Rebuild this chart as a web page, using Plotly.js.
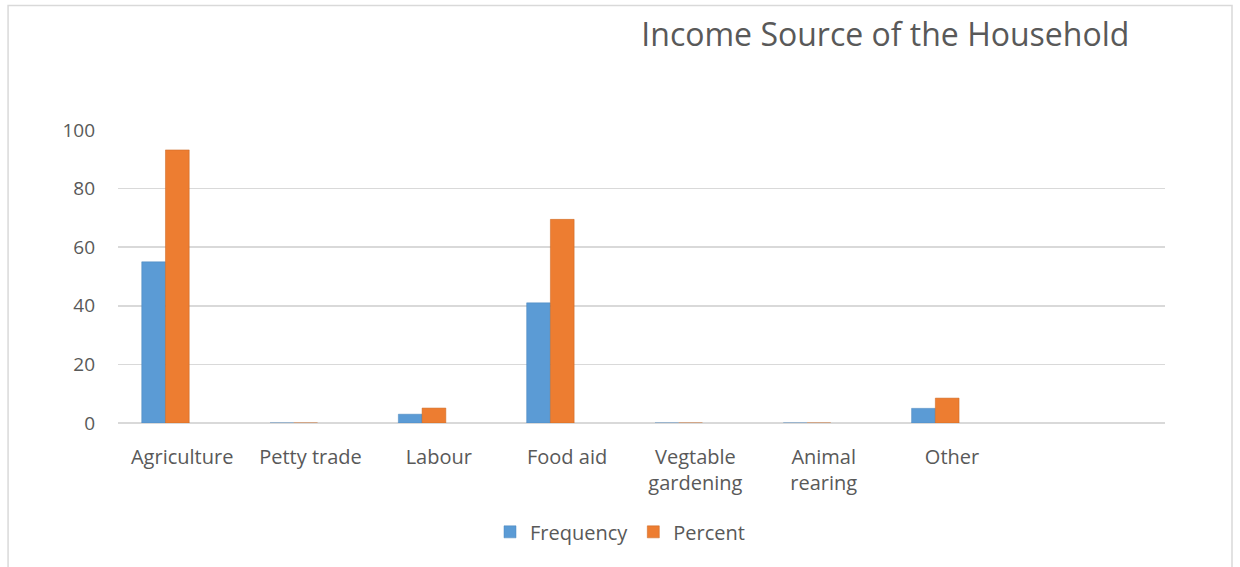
<!DOCTYPE html>
<html>
<head>
<meta charset="utf-8">
<script src="https://cdn.plot.ly/plotly-3.0.1.min.js"></script>
<style>html,body{margin:0;padding:0;background:#fff;}#chart{width:1240px;height:567px;}</style>
</head>
<body>
<div id="chart"></div>
<script>
var categories = ["Agriculture", "Petty trade", "Labour", "Food aid", "Vegtable<br>gardening", "Animal<br>rearing", "Other"];
var frequency = [55, 0, 3, 41, 0, 0, 5];
var percent = [93.2, 0, 5.1, 69.5, 0, 0, 8.5];
var seriesNames = ["Frequency", "Percent"];
var yTicks = [0, 20, 40, 60, 80, 100];

var font = "Open Sans, Liberation Sans, sans-serif";
var textColor = "#595959";

var traces = [
  {type: "bar", name: seriesNames[0], x: categories, y: frequency,
   marker: {color: "#5B9BD5", line: {color: "#4A86BD", width: 0.5}},
   width: 0.185, offset: -0.315},
  {type: "bar", name: seriesNames[1], x: categories, y: percent,
   marker: {color: "#ED7D31", line: {color: "#C9651F", width: 0.5}},
   width: 0.185, offset: -0.13}
];

var layout = {
  width: 1240, height: 567,
  paper_bgcolor: "#ffffff", plot_bgcolor: "#ffffff",
  margin: {l: 118, r: 75, t: 130, b: 144},
  title: {text: "Income Source of the Household", font: {family: font, size: 32, color: textColor},
          x: 0.714, xanchor: "center", xref: "container", y: 0.938, yanchor: "middle", yref: "container"},
  xaxis: {type: "category", range: [-0.5, 7.66], showgrid: false, zeroline: false,
          showline: false, ticks: "", ticklabelstandoff: 20,
          tickfont: {family: font, size: 20, color: textColor}},
  yaxis: {range: [0, 100], tickvals: yTicks, showgrid: true, gridcolor: "#d9d9d9", gridwidth: 1.5,
          zeroline: true, zerolinecolor: "#d9d9d9", zerolinewidth: 1.5, showline: false, ticks: "",
          ticklabelstandoff: 22, tickfont: {family: font, size: 19, color: textColor}},
  barmode: "group",
  showlegend: true,
  legend: {orientation: "h", x: 0.5, xanchor: "center", xref: "container", y: 0.062, yanchor: "middle", yref: "container",
           font: {family: font, size: 20, color: textColor}, itemwidth: 30, traceorder: "normal"},
  shapes: [
    {type: "rect", xref: "paper", yref: "paper", x0: -0.105, x1: 1.064, y0: -0.55, y1: 1.425,
     line: {color: "#d9d9d9", width: 1.5}, fillcolor: "rgba(0,0,0,0)", layer: "below"}
  ]
};

Plotly.newPlot("chart", traces, layout, {displayModeBar: false, staticPlot: true});
</script>
</body>
</html>
